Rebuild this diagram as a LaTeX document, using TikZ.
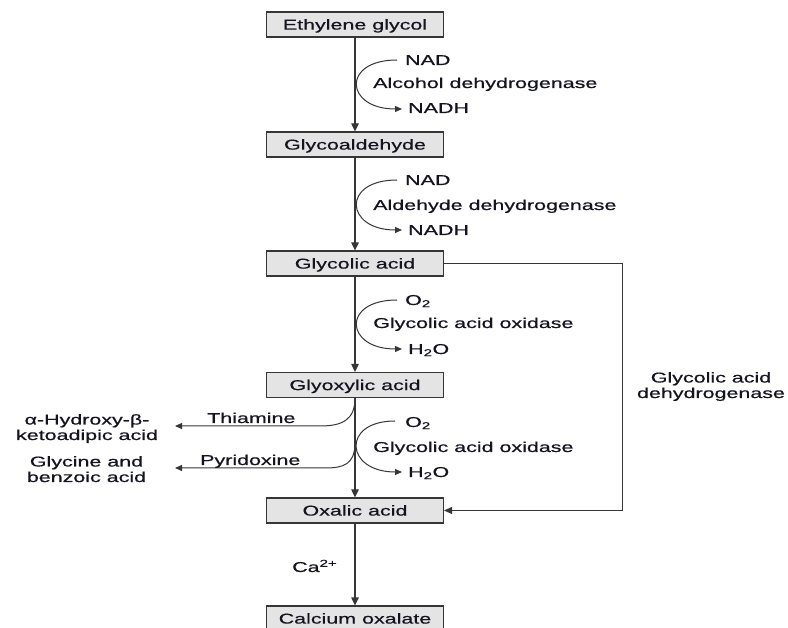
\documentclass[tikz,border=0pt]{standalone}
\usepackage{fontspec}
\setmainfont{Liberation Sans}[FakeStretch=1.5,FakeBold=0.6]
\usetikzlibrary{arrows.meta}
\definecolor{txt}{HTML}{141420}
\definecolor{boxfill}{HTML}{E4E4E4}
\definecolor{ln}{HTML}{363636}
\begin{document}
\begin{tikzpicture}[x=1pt,y=-1pt,
  every node/.style={font=\fontsize{14.3}{15.5}\selectfont, text=txt},
  stepbox/.style={draw=ln, fill=boxfill, line width=1.2pt, minimum width=177pt,
    minimum height=25pt, inner sep=0pt, text height=10.2pt, text depth=0pt},
  lbl/.style={anchor=base west, inner sep=0pt},
  multi/.style={align=center, inner sep=0pt, anchor=base},
  arr/.style={draw=ln, line width=1.2pt, -{Triangle[length=8pt,width=7.5pt]}},
  carr/.style={draw=ln, line width=1pt, -{Triangle[length=7pt,width=6pt]}},
  bypass/.style={draw=ln, line width=1pt, -{Triangle[length=8pt,width=7pt]}}
]
\useasboundingbox (0,0) rectangle (788,628);
\clip (0,0) rectangle (788,628);
\fill[white] (0,0) rectangle (788,628);

% main boxes
\node[stepbox] (eg)  at (355,24.5)  {Ethylene glycol};
\node[stepbox] (ga)  at (355,144.5) {Glycoaldehyde};
\node[stepbox] (gc)  at (355,263.5) {Glycolic acid};
\node[stepbox] (gx)  at (355,385)   {Glyoxylic acid};
\node[stepbox] (ox)  at (355,510.5) {Oxalic acid};
\node[stepbox] (co)  at (355,618.5) {Calcium oxalate};

% main arrows
\draw[arr] (eg.south) -- (ga.north);
\draw[arr] (ga.south) -- (gc.north);
\draw[arr] (gc.south) -- (gx.north);
\draw[arr] (gx.south) -- (ox.north);
\draw[arr] (ox.south) -- (co.north);

% step 1
\node[lbl] (nad1) at (405,65) {NAD};
\node[lbl] (enz1) at (373,88) {Alcohol dehydrogenase};
\node[lbl] (nadh1) at (408,113) {NADH};
\coordinate (s1) at (397,60);
\coordinate (e1) at (402,109);
\draw[carr] (s1) .. controls (341,60) and (345,109) .. (e1);

% step 2
\node[lbl] (nad2) at (405,185) {NAD};
\node[lbl] (enz2) at (373,210) {Aldehyde dehydrogenase};
\node[lbl] (nadh2) at (408,235) {NADH};
\coordinate (s2) at (397,180);
\coordinate (e2) at (402,230);
\draw[carr] (s2) .. controls (341,180) and (345,230) .. (e2);

% step 3
\node[lbl] (o2a) at (405,305) {O\textsubscript{2}};
\node[lbl] (enz3) at (373,328) {Glycolic acid oxidase};
\node[lbl] (h2oa) at (408,354) {H\textsubscript{2}O};
\coordinate (s3) at (397,300);
\coordinate (e3) at (402,349);
\draw[carr] (s3) .. controls (341,300) and (345,349) .. (e3);

% step 4
\node[lbl] (o2b) at (405,427) {O\textsubscript{2}};
\node[lbl] (enz4) at (373,452) {Glycolic acid oxidase};
\node[lbl] (h2ob) at (408,477) {H\textsubscript{2}O};
\coordinate (s4) at (395,421);
\coordinate (e4) at (402,472);
\draw[carr] (s4) .. controls (341,421) and (345,472) .. (e4);

% side branches
\node[lbl] (thi) at (207,423) {Thiamine};
\node[lbl] (pyr) at (200,465) {Pyridoxine};
\node[multi] (hka) at (87,440) {α-Hydroxy-β-\\ketoadipic acid};
\node[multi] (gba) at (86.5,482) {Glycine and\\benzoic acid};
\coordinate (t1) at (320,426);
\coordinate (tend) at (175,426);
\draw[carr] (gx.south) .. controls (355,420) and (342,426) .. (t1) -- (tend);
\coordinate (p0) at (355,445);
\coordinate (p1) at (325,468);
\coordinate (pend) at (175,468);
\draw[carr] (p0) .. controls (354,464) and (344,468) .. (p1) -- (pend);

% bypass
\coordinate (corner) at (622,263.5);
\draw[bypass] (gc.east) -- (corner) |- (ox.east);
\node[multi] (gad) at (711,398) {Glycolic acid\\dehydrogenase};

% calcium
\node[lbl] (ca) at (292,572) {Ca\textsuperscript{2+}};
\end{tikzpicture}
\end{document}
